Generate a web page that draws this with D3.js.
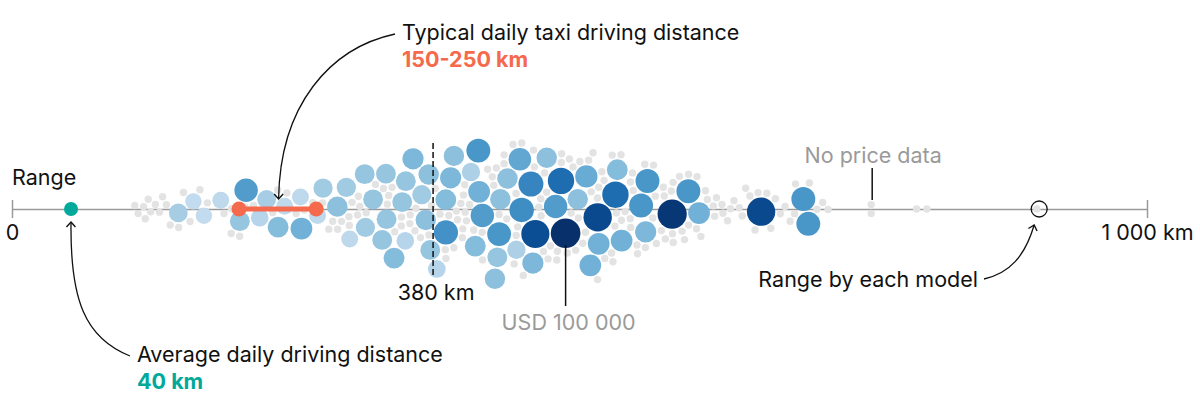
<!DOCTYPE html>
<html lang="en">
<head>
    <meta charset="UTF-8">
    <title>EV range</title>
    <script src="https://cdn.jsdelivr.net/npm/d3@7/dist/d3.min.js"></script>
    <style>
        body { margin: 0; background: #fff; }
        svg text { font-family: Inter, Roboto, sans-serif; font-size: 21.5px; fill: #111; }
    </style>
</head>
<body>
<div id="chart"></div>
<script>
    // range (km) and price (USD thousands) of each model with a known price
    const modelRange = [147, 159, 169, 184, 207, 203, 224, 240, 218, 233, 256, 254, 274, 268, 288, 294, 298,
        311, 314, 320, 329, 328, 338, 332, 344, 348, 347, 357, 365, 364, 359, 374, 373,
        382, 389, 410, 430, 450, 470, 418, 439, 455, 485, 515, 537, 558, 460, 408, 427, 384, 449,
        486, 530, 512, 559, 581, 604, 594, 461, 435, 412, 393, 497, 516, 533, 552, 406, 426, 446,
        477, 502, 660, 701, 697];
    const modelPrice = [30, 20, 20, 22, 55, 35, 30, 22, 25, 40, 45, 22, 32, 22, 38, 32, 22,
        32, 35, 35, 35, 35, 40, 35, 25, 35, 35, 42, 38, 38, 32, 25, 35,
        60, 38, 58, 35, 62, 38, 55, 38, 65, 75, 90, 45, 58, 42, 40, 58, 40, 28,
        100, 75, 45, 42, 97, 45, 58, 88, 38, 45, 42, 38, 45, 40, 58, 28, 38, 50,
        55, 48, 90, 58, 58];
    // range (km) of models with no price data
    const greyRange = [109, 112, 115, 117, 120, 123, 126, 129, 133, 137, 141, 146,
        152, 156, 165, 174, 187, 196,
        192, 199, 208, 211, 227, 233, 242, 249, 257, 263, 273, 280, 283, 287, 295,
        290, 296, 299, 305, 308, 313, 315, 320, 322, 328, 331, 333, 338, 342, 345, 347, 352, 354, 359, 361, 366, 369, 371, 374, 378,
        380, 382, 385, 388, 389, 392, 395, 397, 400, 402, 405, 408, 410, 412, 415, 418, 420, 423, 425, 427, 430, 433, 435, 437,
        440, 443, 445, 447, 450, 452, 454, 456, 458, 461, 463,
        465, 467, 469, 471, 473, 476, 478, 480, 482, 484, 486, 488, 491, 493, 495, 497, 499, 501, 503, 506, 508, 510,
        512, 514, 516, 519, 521, 523, 525, 527, 529, 531, 533, 535, 537, 539, 541, 543, 545, 547,
        549, 551, 553, 555, 557, 560, 562, 564, 566, 568, 571, 573, 575, 578, 580, 582, 585, 587, 590, 592, 595, 598,
        600, 603, 606, 609, 612, 615, 618, 621, 624,
        627, 630, 633, 636, 640, 644, 647, 651, 655, 659, 663, 668, 672, 676, 681, 686, 691, 697, 702, 708, 714, 719,
        757, 757, 797, 806, 903];

    // reference marks (km)
    const avgDaily = 52;
    const taxiRange = [200, 268];
    const medianRange = 371;
    const legendRange = 905;
    const axisTicks = [0, 1000];

    const width = 1200, height = 417, axisY = 209;

    const svg = d3.select('#chart').append('svg')
        .attr('width', width).attr('height', height);

    svg.append('defs').append('marker')
        .attr('id', 'arrow')
        .attr('viewBox', '-6 -6 12 12')
        .attr('refX', 0).attr('refY', 0)
        .attr('markerWidth', 12).attr('markerHeight', 12)
        .attr('markerUnits', 'userSpaceOnUse')
        .attr('orient', 'auto')
        .append('path')
        .attr('d', 'M-5,-4.5L0,0L-5,4.5')
        .attr('fill', 'none').attr('stroke', '#111').attr('stroke-width', 1.4);

    const x = d3.scaleLinear().domain([0, 1000]).range([12, 1147]);
    const r = d3.scaleSqrt().domain([20, 100]).range([8.2, 14.8]);
    const color = d3.scaleLinear().domain([20, 100]).range([0.25, 1]);

    // axis
    const axis = svg.append('g')
        .attr('transform', `translate(0,${axisY})`)
        .call(d3.axisBottom(x).tickValues(axisTicks).tickSizeOuter(0)
            .tickFormat(d => d === 0 ? '0' : '1 000 km'));
    axis.select('.domain').attr('stroke', '#9a9a9a').attr('stroke-width', 1.5);
    axis.selectAll('.tick line').attr('y1', -9).attr('y2', 9)
        .attr('stroke', '#9a9a9a').attr('stroke-width', 1.5);
    axis.selectAll('.tick text').attr('y', 31).attr('dy', null)
        .style('font-size', '21.5px').style('font-family', 'Inter, Roboto, sans-serif').attr('fill', '#111');

    svg.append('text').attr('x', 12).attr('y', 185).text('Range');

    // beeswarm
    const nodes = greyRange.map(km => ({ km, r: 3.7, fill: '#e3e3e3' }))
        .concat(modelRange.map((km, i) => ({
            km, price: modelPrice[i], r: r(modelPrice[i]),
            fill: d3.interpolateBlues(color(modelPrice[i]))
        })));
    nodes.forEach(d => { d.x = x(d.km); d.y = axisY; });

    const sim = d3.forceSimulation(nodes)
        .force('x', d3.forceX(d => x(d.km)).strength(1))
        .force('y', d3.forceY(axisY).strength(0.06))
        .force('collide', d3.forceCollide(d => d.r + 0.7).iterations(3))
        .stop();
    for (let i = 0; i < 400; i++) sim.tick();

    svg.append('g').selectAll('circle')
        .data(nodes)
        .enter()
        .append('circle')
        .attr('cx', d => d.x)
        .attr('cy', d => d.y)
        .attr('r', d => d.r)
        .attr('fill', d => d.fill);

    // median line
    svg.append('line')
        .attr('x1', x(medianRange)).attr('x2', x(medianRange))
        .attr('y1', 143).attr('y2', 276)
        .attr('stroke', '#111').attr('stroke-width', 1.5).attr('stroke-dasharray', '6,3');
    svg.append('text').attr('x', x(medianRange) + 3).attr('y', 300)
        .attr('text-anchor', 'middle').text('380 km');

    // USD 100 000 callout
    const priciest = nodes.find(d => d.price === d3.max(modelPrice));
    svg.append('line')
        .attr('x1', priciest.x).attr('x2', priciest.x)
        .attr('y1', priciest.y + priciest.r - 3).attr('y2', 306)
        .attr('stroke', '#111').attr('stroke-width', 1.5);
    svg.append('text').attr('x', priciest.x + 3).attr('y', 330)
        .attr('text-anchor', 'middle').style('fill', '#9a9a9a')
        .text('USD 100 000');

    // no price data callout
    const noPrice = nodes.filter(d => d.km === 757).sort((a, b) => a.y - b.y)[0];
    svg.append('line')
        .attr('x1', noPrice.x + 1).attr('x2', noPrice.x + 1)
        .attr('y1', 168).attr('y2', noPrice.y - noPrice.r - 1)
        .attr('stroke', '#111').attr('stroke-width', 1.5);
    svg.append('text').attr('x', noPrice.x + 2).attr('y', 163)
        .attr('text-anchor', 'middle').style('fill', '#9a9a9a').text('No price data');

    // taxi range
    svg.append('line')
        .attr('x1', x(taxiRange[0])).attr('x2', x(taxiRange[1]))
        .attr('y1', axisY).attr('y2', axisY)
        .attr('stroke', '#f5694c').attr('stroke-width', 5);
    svg.append('g').selectAll('circle')
        .data(taxiRange)
        .enter()
        .append('circle')
        .attr('cx', d => x(d)).attr('cy', axisY).attr('r', 7.5)
        .attr('fill', '#f5694c');

    // average daily distance
    svg.append('circle')
        .attr('cx', x(avgDaily)).attr('cy', axisY).attr('r', 7)
        .attr('fill', '#00a99a');

    // legend circle
    svg.append('circle')
        .attr('cx', x(legendRange)).attr('cy', axisY).attr('r', 8)
        .attr('fill', 'none').attr('stroke', '#111').attr('stroke-width', 1.3);

    // annotations
    const curve = (d) => svg.append('path').attr('d', d)
        .attr('fill', 'none').attr('stroke', '#111').attr('stroke-width', 1.3)
        .attr('marker-end', 'url(#arrow)');

    curve(`M395,34 C330,48 280,105 ${x((taxiRange[0] + taxiRange[1]) / 2) + 1},199`);
    svg.append('text').attr('x', 402).attr('y', 40).text('Typical daily taxi driving distance');
    svg.append('text').attr('x', 402).attr('y', 67)
        .style('fill', '#f5694c').style('font-weight', 700).text('150-250 km');

    curve(`M130,356 C85,338 70,300 ${x(avgDaily)},222`);
    svg.append('text').attr('x', 137).attr('y', 362).text('Average daily driving distance');
    svg.append('text').attr('x', 137).attr('y', 389)
        .style('fill', '#00a99a').style('font-weight', 700).text('40 km');

    curve(`M984,279 C1010,273 1025,256 ${x(legendRange) - 5},225`);
    svg.append('text').attr('x', 978).attr('y', 287).attr('text-anchor', 'end').text('Range by each model');
</script>
</body>
</html>
